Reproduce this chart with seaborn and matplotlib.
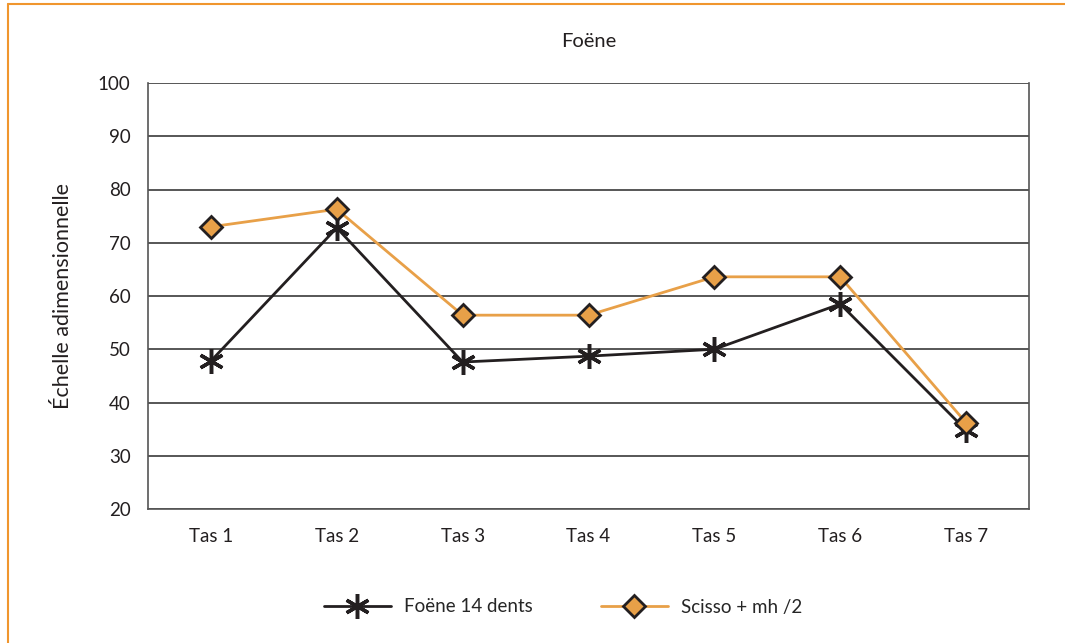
import seaborn as sns
import matplotlib.pyplot as plt
import pandas as pd
from matplotlib.lines import Line2D

# data
tas = ['Tas 1', 'Tas 2', 'Tas 3', 'Tas 4', 'Tas 5', 'Tas 6', 'Tas 7']
foene = [47.8, 72.8, 47.6, 48.7, 50.0, 58.5, 34.8]
scisso = [73.0, 76.3, 56.4, 56.4, 63.6, 63.6, 36.2]
labels = ['Foëne 14 dents', 'Scisso + mh /2']

BLACK = '#231F20'
ORANGE = '#E8A048'

sns.set_style('white')
plt.rcParams['font.family'] = ['Lato', 'DejaVu Sans']

fig = plt.figure(figsize=(10.65, 6.43), dpi=100)
ax = fig.add_axes([148 / 1065, 1 - 509 / 643, (1029 - 148) / 1065, (509 - 83) / 643])

df1 = pd.DataFrame({'tas': tas, 'val': foene})
df2 = pd.DataFrame({'tas': tas, 'val': scisso})

sns.lineplot(data=df1, x='tas', y='val', ax=ax, color=BLACK, linewidth=2,
             marker=(6, 2, 0), markersize=18, markeredgewidth=2.5,
             markeredgecolor=BLACK, sort=False, label=labels[0], zorder=3)
sns.lineplot(data=df2, x='tas', y='val', ax=ax, color=ORANGE, linewidth=2,
             marker='D', markersize=11, markerfacecolor=ORANGE,
             markeredgecolor=BLACK, markeredgewidth=2, sort=False,
             label=labels[1], zorder=4)

ax.set_ylim(20, 100)
ax.set_xlim(-0.5, 6.5)
ax.set_yticks(range(20, 101, 10))
ax.yaxis.grid(True, color='#3a3a3a', linewidth=1.2)
ax.set_axisbelow(True)

# ticks on the category boundaries
ax.set_xticks([i - 0.5 for i in range(8)], minor=True)
ax.tick_params(axis='x', which='minor', length=9, width=1, color='#555555', direction='out')
ax.tick_params(axis='x', which='major', length=0, labelsize=13.5, pad=14, colors='#231F20')
ax.tick_params(axis='y', length=9, width=1, color='#555555', direction='out', labelsize=13.5, colors='#231F20')

for side in ['left', 'right', 'bottom']:
    ax.spines[side].set_color('#555555')
    ax.spines[side].set_linewidth(1.2)
ax.spines['top'].set_visible(False)

ax.set_xlabel('')
ax.set_ylabel('Échelle adimensionnelle', fontsize=15.5, color='#231F20', labelpad=18)
ax.set_title('Foëne', fontsize=14.5, color='#231F20', pad=26)

ax.legend(loc='center', ncol=2, frameon=False, fontsize=13.5, handlelength=3.6,
          columnspacing=3.6, handletextpad=0.7,
          bbox_to_anchor=(563 / 1065, (643 - 607) / 643), bbox_transform=fig.transFigure)

# orange frame around the figure (top and left visible)
fig.add_artist(Line2D([8 / 1065, 1.01], [1 - 4 / 643, 1 - 4 / 643], color='#F0962E', linewidth=1.5,
                      transform=fig.transFigure))
fig.add_artist(Line2D([8 / 1065, 8 / 1065], [-0.01, 1 - 4 / 643], color='#F0962E', linewidth=1.5,
                      transform=fig.transFigure))

fig.savefig('out.png', dpi=100)
